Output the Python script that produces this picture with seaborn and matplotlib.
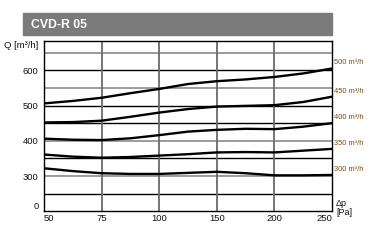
import numpy as np
import pandas as pd
import matplotlib
matplotlib.use("Agg")
import matplotlib.pyplot as plt
import matplotlib.transforms as mtransforms
import seaborn as sns

# --- data ---
x_pos = [0, 0.5, 1, 1.5, 2, 2.5, 3, 3.5, 4, 4.5, 5]
x_tick_labels = ["50", "75", "100", "150", "200", "250"]
q500 = [506, 513, 522, 535, 547, 561, 569, 574, 581, 591, 605]
q450 = [452, 453, 457, 468, 480, 490, 497, 499, 501, 510, 525]
q400 = [406, 403, 402, 407, 416, 426, 431, 434, 433, 440, 450]
q350 = [361, 355, 352, 354, 358, 362, 367, 368, 367, 372, 377]
q300 = [322, 314, 308, 306, 306, 309, 312, 308, 302, 302, 303]
series_names = ["500 m³/h", "450 m³/h", "400 m³/h", "350 m³/h", "300 m³/h"]
y_ticks = [200, 300, 400, 500, 600]
y_tick_labels = ["0", "300", "400", "500", "600"]
grid_black = [250, 350, 450, 500, 600]
grid_gray = [300, 400, 550, 650]

rows = []
for name, vals in zip(series_names, [q500, q450, q400, q350, q300]):
    for x, v in zip(x_pos, vals):
        rows.append({"x": x, "Q": v, "curve": name})
df = pd.DataFrame(rows)

sns.set_style("white")
plt.rcParams["font.family"] = ["Liberation Sans", "DejaVu Sans"]

fig = plt.figure(figsize=(3.73, 2.41), dpi=100)
ax = fig.add_axes([44/373, 1-211.3/241, (332-44)/373, (211.3-41)/241])

# grid
for g in grid_gray:
    ax.axhline(g, color="#8a8a8a", lw=1.2, zorder=1)
for g in grid_black:
    ax.axhline(g, color="black", lw=1.0, zorder=1)
for xv in [1, 2, 3, 4]:
    ax.axvline(xv, color="#6a6a6a", lw=1.3, zorder=1)

sns.lineplot(data=df, x="x", y="Q", hue="curve", palette=["black"]*5,
             linewidth=1.7, legend=False, ax=ax, zorder=3)

ax.set_xlim(0, 5)
ax.set_ylim(200, 683)
ax.set_xticks(range(6))
ax.set_xticklabels(x_tick_labels)
ax.set_yticks(y_ticks)
ax.set_yticklabels(y_tick_labels)
ax.tick_params(axis="both", length=0, labelsize=6.8, colors="#111111")
ax.tick_params(axis="y", pad=4)
ax.tick_params(axis="x", pad=2)
ax.set_xlabel("")
ax.set_ylabel("")
for s in ax.spines.values():
    s.set_color("black")
    s.set_linewidth(1.0)

xl = ax.get_xticklabels()
xl[0].set_ha("left")
xl[-1].set_ha("right")
yl = ax.get_yticklabels()
yl[0].set_va("bottom")

# right labels
for name, vals in zip(series_names, [q500, q450, q400, q350, q300]):
    ax.annotate(name, xy=(5, vals[-1]), xytext=(1.5, 4), textcoords="offset points",
                fontsize=5.4, color="#7a4b12", va="center", ha="left",
                annotation_clip=False)

fig.text(4/373, 1-45/241, "Q [m³/h]", fontsize=6.8, ha="left", va="center", color="#111111")
fig.text(336/373, 1-208/241, "Δp\n[Pa]", fontsize=6.5, ha="left", va="center",
         color="#111111", linespacing=0.9)

# title bar
bar = plt.Rectangle((23/373, 1-35/241), (332-23)/373, 22/241, transform=fig.transFigure,
                    color="#7b7b7b", zorder=0)
fig.patches.append(bar)
fig.text(31/373, 1-24.5/241, "CVD-R 05", fontsize=8.8, fontweight="bold", color="white",
         ha="left", va="center")

fig.savefig("out.png", dpi=100)
